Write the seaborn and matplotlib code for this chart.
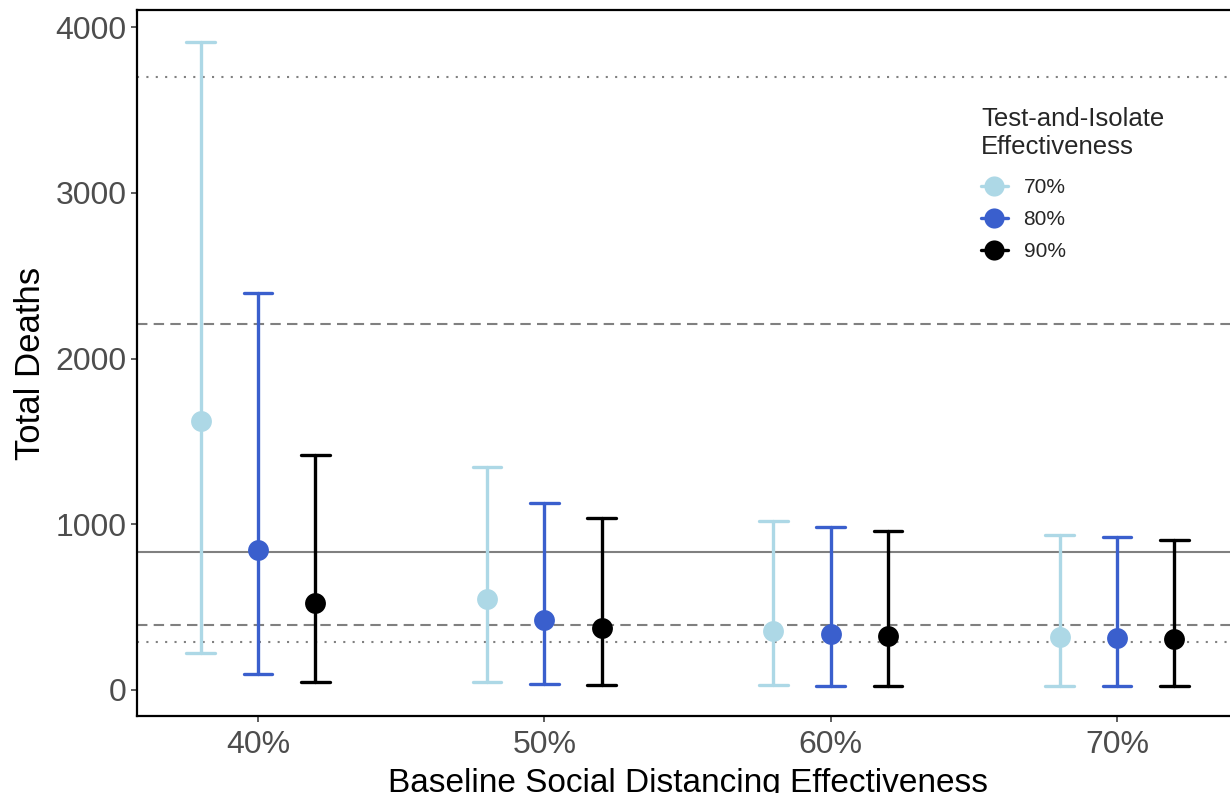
import numpy as np
import pandas as pd
import matplotlib
matplotlib.use("Agg")
import matplotlib.pyplot as plt
import seaborn as sns
from matplotlib.lines import Line2D

# ---- data ----
sd_levels = ["40%", "50%", "60%", "70%"]
ti_levels = ["70%", "80%", "90%"]

mid_70 = [1620, 549, 356, 320]
low_70 = [223, 48, 30, 24]
high_70 = [3910, 1345, 1020, 935]

mid_80 = [845, 422, 338, 314]
low_80 = [97, 36, 24, 24]
high_80 = [2395, 1128, 983, 923]

mid_90 = [525, 374, 326, 308]
low_90 = [48, 30, 24, 24]
high_90 = [1418, 1038, 959, 905]

ref_dotted = [3698, 290]
ref_dashed = [2208, 392]
ref_solid = [833]

colors = ["#ADD8E6", "#3A5FCD", "#000000"]

series = {
    "70%": (low_70, mid_70, high_70),
    "80%": (low_80, mid_80, high_80),
    "90%": (low_90, mid_90, high_90),
}
rows = []
for ti, (lo, md, hi) in series.items():
    for i, sd in enumerate(sd_levels):
        for v in (lo[i], md[i], hi[i]):
            rows.append({"sd": sd, "ti": ti, "deaths": v})
df = pd.DataFrame(rows)

# ---- style ----
sns.set_theme(style="white")
plt.rcParams["font.family"] = ["Liberation Sans", "DejaVu Sans"]

fig = plt.figure(figsize=(12.30, 7.93), dpi=100)
ax = fig.add_axes([0.1114, 0.0971, 0.8951, 0.8903])

for y in ref_dotted:
    ax.axhline(y, color="#808080", linestyle=(0, (1, 3.5)), linewidth=1.5, zorder=1)
for y in ref_dashed:
    ax.axhline(y, color="#808080", linestyle=(0, (5, 3)), linewidth=1.5, zorder=1)
for y in ref_solid:
    ax.axhline(y, color="#808080", linestyle="-", linewidth=1.5, zorder=1)

sns.pointplot(data=df, x="sd", y="deaths", hue="ti", order=sd_levels,
              hue_order=ti_levels, palette=colors, estimator="median",
              errorbar=("pi", 100), dodge=0.4, linestyle="none",
              capsize=0.1, err_kws={"linewidth": 2.4}, markersize=15,
              markeredgewidth=0, marker="o", legend=False, ax=ax)

ax.set_xlim(-0.4226, 3.4226)
ax.set_ylim(-157, 4103)
ax.set_yticks([0, 1000, 2000, 3000, 4000])

for s in ax.spines.values():
    s.set_color("black")
    s.set_linewidth(1.6)

ax.tick_params(axis="both", which="both", length=4, width=1.1, color="#333333",
               labelcolor="#4D4D4D", labelsize=23, direction="out",
               left=True, bottom=True)
ax.tick_params(axis="x", pad=6)
ax.set_xlabel("Baseline Social Distancing Effectiveness", fontsize=24,
              color="black", labelpad=6)
ax.set_ylabel("Total Deaths", fontsize=25, color="black", labelpad=6)

handles = [Line2D([0], [0], color=c, marker="o", markersize=14.5,
                  markeredgewidth=0, linewidth=2.4) for c in colors]
leg = ax.legend(handles, ti_levels, title="Test-and-Isolate\nEffectiveness",
                loc="upper left", bbox_to_anchor=(0.789, 0.878),
                bbox_transform=fig.transFigure, frameon=False, fontsize=15,
                title_fontsize=18.5, handlelength=1.3, handletextpad=0.75,
                labelspacing=0.62, borderpad=0, alignment="left")
leg._legend_box.sep = 14

fig.savefig("out.png", dpi=100)
